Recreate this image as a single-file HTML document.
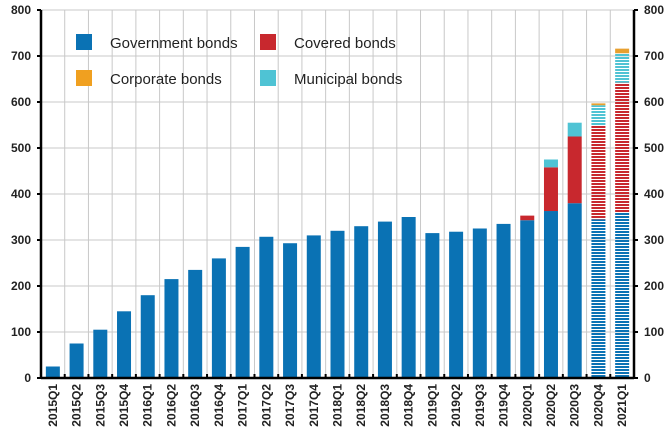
<!DOCTYPE html><html><head><meta charset="utf-8"><style>body{margin:0;background:#fff}svg{display:block;font-family:"Liberation Sans",sans-serif}</style></head><body>
<svg id="s" width="672" height="443" xmlns="http://www.w3.org/2000/svg">
<defs>
<pattern id="pb" width="4" height="3" patternUnits="userSpaceOnUse"><rect width="4" height="2" fill="#0a72b4"/></pattern>
<pattern id="pr" width="4" height="3" patternUnits="userSpaceOnUse"><rect width="4" height="2" fill="#c8282e"/></pattern>
<pattern id="pc" width="4" height="3" patternUnits="userSpaceOnUse"><rect width="4" height="2" fill="#4fc3d4"/></pattern>
</defs>
</svg>
<script>
var s=document.getElementById('s'),ns='http://www.w3.org/2000/svg';
function el(t,a,txt){var e=document.createElementNS(ns,t);for(var k in a)e.setAttribute(k,a[k]);if(txt!=null)e.textContent=txt;s.appendChild(e);return e;}
var L=41,R=634,Y0=378,sc=368/800,n=25,w=(R-L)/n;
function y(v){return Y0-v*sc;}
for(var i=1;i<=8;i++)el('line',{x1:L,x2:R,y1:y(i*100),y2:y(i*100),stroke:'#c8c8c8','stroke-width':1});
for(var i=1;i<n;i++)el('line',{x1:L+i*w,x2:L+i*w,y1:y(800),y2:Y0,stroke:'#c8c8c8','stroke-width':1});
var labs=[],g=[25,75,105,145,180,215,235,260,285,307,293,310,320,330,340,350,315,318,325,335,343,363,380,345,360];
for(var yy=2015;yy<=2021;yy++)for(var q=1;q<=4;q++)labs.push(yy+'Q'+q);
var cov={20:10,21:95,22:145,23:203,24:282},mun={21:17,22:30,23:45,24:64},cor={23:4,24:10};
for(var i=0;i<n;i++){var x=L+i*w+(w-14)/2,st=i>=23,b=0;
function bar(v,c,p){if(!v)return;el('rect',{x:x,y:y(b+v),width:14,height:v*sc,fill:st?p:c});b+=v;}
bar(g[i],'#0a72b4','url(#pb)');bar(cov[i],'#c8282e','url(#pr)');bar(mun[i],'#4fc3d4','url(#pc)');bar(cor[i],'#f0a020','#e8a030');
var cx=L+i*w+w/2+4;el('text',{x:cx,y:Y0+6,transform:'rotate(-90 '+cx+' '+(Y0+6)+')','text-anchor':'end','font-size':12,'font-weight':'bold',fill:'#222'},labs[i]);
}
el('line',{x1:L,x2:L,y1:y(800),y2:Y0,stroke:'#000','stroke-width':2.5});
el('line',{x1:R,x2:R,y1:y(800),y2:Y0,stroke:'#000','stroke-width':2.5});
el('line',{x1:L,x2:R,y1:Y0,y2:Y0,stroke:'#000','stroke-width':2.5});
for(var i=1;i<n;i++)el('line',{x1:L+i*w,x2:L+i*w,y1:Y0,y2:Y0-4,stroke:'#000','stroke-width':2});
for(var i=0;i<=8;i++){el('line',{x1:L-4,x2:L,y1:y(i*100),y2:y(i*100),stroke:'#000','stroke-width':2});el('line',{x1:R,x2:R+4,y1:y(i*100),y2:y(i*100),stroke:'#000','stroke-width':2});
el('text',{x:31,y:y(i*100)+4,'text-anchor':'end','font-size':12,'font-weight':'bold',fill:'#222'},i*100);
el('text',{x:644,y:y(i*100)+4,'font-size':12,'font-weight':'bold',fill:'#222'},i*100);}
var lg=[[76,34,'#0a72b4','Government bonds'],[260,34,'#c8282e','Covered bonds'],[76,70,'#f0a020','Corporate bonds'],[260,70,'#4fc3d4','Municipal bonds']];
lg.forEach(function(a){el('rect',{x:a[0],y:a[1],width:16,height:16,fill:a[2]});el('text',{x:a[0]+34,y:a[1]+14,'font-size':15,fill:'#222'},a[3]);});
</script></body></html>
